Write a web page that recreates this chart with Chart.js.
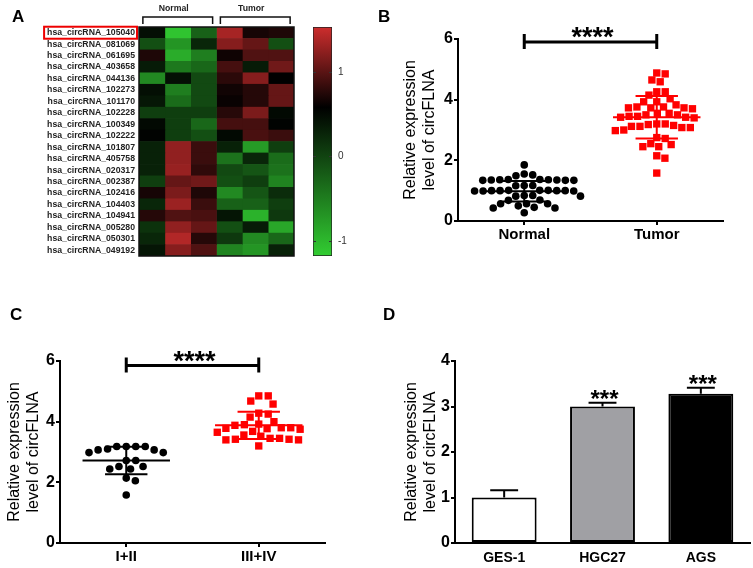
<!DOCTYPE html>
<html>
<head>
<meta charset="utf-8">
<script src="https://cdn.jsdelivr.net/npm/chart.js@4.4.0/dist/chart.umd.min.js"></script>
<style>
  body { margin: 0; background: #fff; }
  #page { position: relative; width: 753px; height: 568px; overflow: hidden; font-family: 'Liberation Sans', Arial, sans-serif; }
  canvas { position: absolute; }
  .tag { position: absolute; font-weight: bold; font-size: 17px; line-height: 17px; color: #000; }
</style>
</head>
<body>
<div id="page">
  <canvas id="heat" width="300" height="270" style="left:0;top:0"></canvas>
  <canvas id="cbar" width="53" height="270" style="left:300px;top:0"></canvas>
  <canvas id="chartB" width="383" height="270" style="left:370px;top:0"></canvas>
  <canvas id="chartC" width="340" height="278" style="left:0;top:290px"></canvas>
  <canvas id="chartD" width="373" height="278" style="left:380px;top:290px"></canvas>
  <div class="tag" style="left:12px;top:8px">A</div>
  <div class="tag" style="left:378px;top:8px">B</div>
  <div class="tag" style="left:10px;top:306px">C</div>
  <div class="tag" style="left:383px;top:306px">D</div>
</div>
<script>
// ---- panel A: heatmap ----
const heatRows = [
  "hsa_circRNA_105040", "hsa_circRNA_081069", "hsa_circRNA_061695", "hsa_circRNA_403658",
  "hsa_circRNA_044136", "hsa_circRNA_102273", "hsa_circRNA_101170", "hsa_circRNA_102228",
  "hsa_circRNA_100349", "hsa_circRNA_102222", "hsa_circRNA_101807", "hsa_circRNA_405758",
  "hsa_circRNA_020317", "hsa_circRNA_002387", "hsa_circRNA_102416", "hsa_circRNA_104403",
  "hsa_circRNA_104941", "hsa_circRNA_005280", "hsa_circRNA_050301", "hsa_circRNA_049192"
];
const heatCols = ["N1", "N2", "N3", "T1", "T2", "T3"];
const heatGroups = ["Normal", "Tumor"];
const heatValues = [
  [0.45, -1.1, -0.25, 1.35, 0.68, 0.72],
  [-0.1, -0.7, 0.25, 1.2, 1.05, -0.1],
  [0.72, -0.9, -0.5, 0.65, 0.95, 0.95],
  [0.35, -0.45, -0.3, 0.9, 0.35, 1.1],
  [-0.6, 0.45, -0.05, 0.78, 1.2, 0.58],
  [0.45, -0.5, -0.05, 0.66, 0.75, 1.05],
  [0.38, -0.35, -0.05, 0.62, 0.75, 1.05],
  [0.05, 0.05, 0.05, 0.76, 1.15, 0.5],
  [0.5, 0.05, -0.3, 0.9, 0.9, 0.55],
  [0.55, 0.05, -0.1, 0.5, 0.92, 0.85],
  [0.3, 1.25, 0.85, 0.3, -0.75, 0.05],
  [0.3, 1.25, 0.85, -0.4, 0.25, -0.35],
  [0.3, 1.28, 0.8, -0.05, -0.15, -0.4],
  [0.05, 1.05, 1.1, -0.1, 0.05, -0.55],
  [0.68, 1.15, 0.72, -0.6, -0.15, 0.2],
  [0.25, 1.3, 0.85, -0.25, -0.25, 0.05],
  [0.75, 0.95, 0.92, 0.4, -0.95, 0.1],
  [0.15, 1.25, 1.05, -0.1, 0.35, -0.85],
  [0.25, 1.4, 0.75, 0.1, -0.6, -0.3],
  [0.4, 1.2, 0.95, -0.55, -0.7, 0.3]
];
const cbTicks = [-1, 0, 1];
const cbRange = [-1.18, 1.53];

// ---- panel B ----
const bLabels = ["Normal", "Tumor"];
const bNormal = [1.85, 1.52, 1.49, 1.55,
  1.37, 1.36, 1.35, 1.34, 1.34, 1.34, 1.35, 1.36, 1.37,
  1.17, 1.16, 1.17,
  1.01, 1.0, 1.0, 0.99, 0.99, 0.99, 1.0, 1.0, 1.01, 1.01,
  0.84, 0.82, 0.82, 0.84, 0.69, 0.68,
  0.57, 0.5, 0.43, 0.27, 0.43, 0.45, 0.57, 0.57];
const bTumor = [4.88, 4.85, 4.65, 4.59, 4.26, 4.26, 4.15, 4.03, 3.93, 3.93, 3.83,
  3.73, 3.76, 3.73, 3.73, 3.76, 3.7, 3.55, 3.5, 3.45, 3.42, 3.4, 3.42, 3.45, 3.5, 3.55,
  3.2, 3.18, 3.12, 3.08, 3.08, 3.12, 3.15, 3.2, 3.0, 2.98,
  2.72, 2.75, 2.52, 2.55, 2.45, 2.45, 2.15, 2.07, 1.58];
const bMean = [0.98, 3.42];
const bSd = [0.34, 0.7];
const bSig = 5.9;

// ---- panel C ----
const cLabels = ["I+II", "III+IV"];
const cLow = [3.18, 3.18, 3.07, 2.98, 2.98, 3.07, 3.1, 3.18, 3.18, 2.72, 2.72, 2.52, 2.52, 2.44, 2.44, 2.14, 2.05, 1.58];
const cHigh = [4.85, 4.85, 4.68, 4.58, 4.28, 4.25, 4.15, 3.92, 3.88, 3.9, 4.0, 3.8, 3.78, 3.75, 3.77, 3.8,
  3.56, 3.52, 3.45, 3.42, 3.4, 3.4, 3.42, 3.45, 3.2, 3.65, 3.68];
const cMean = [2.72, 3.88];
const cSd = [0.45, 0.45];
const cSig = 5.85;

// ---- panel D ----
const dLabels = ["GES-1", "HGC27", "AGS"];
const dMean = [1.0, 3.0, 3.28];
const dErr = [0.16, 0.08, 0.13];
const dStars = ["", "***", "***"];

const FONT = "'Liberation Sans', Arial, sans-serif";
Chart.defaults.font.family = FONT;
Chart.defaults.color = "#000";
Chart.defaults.animation = false;

// green -> black -> red colour map of the heatmap
const cmStops = [[cbRange[0], [50, 205, 50]], [0.58, [0, 0, 0]], [cbRange[1], [205, 45, 45]]];
function heatColor(v) {
    v = Math.max(cbRange[0], Math.min(cbRange[1], v));
    for (let i = 0; i < cmStops.length - 1; i++) {
        const [a, ca] = cmStops[i], [b, cb] = cmStops[i + 1];
        if (v <= b) {
            const t = (v - a) / (b - a);
            const c = ca.map((x, k) => Math.round(x + (cb[k] - x) * t));
            return "rgb(" + c.join(",") + ")";
        }
    }
    return "rgb(" + cmStops[cmStops.length - 1][1].join(",") + ")";
}

const noLegend = { legend: { display: false }, tooltip: { enabled: false } };
const ROWFONT = 8.7;

const heatDecor = {
    id: "heatDecor",
    afterDraw(chart) {
        const { ctx, chartArea: a, scales: { x, y } } = chart;
        ctx.save();
        ctx.strokeStyle = "#111";
        ctx.lineWidth = 1.5;
        ctx.strokeRect(a.left, a.top, a.right - a.left, a.bottom - a.top);
        // group brackets
        ctx.font = "bold 8.7px " + FONT;
        ctx.fillStyle = "#222";
        ctx.textAlign = "center";
        ctx.textBaseline = "middle";
        heatGroups.forEach((g, i) => {
            const x0 = x.getPixelForValue(i * 3 + 0.15), x1 = x.getPixelForValue(i * 3 + 2.85);
            const yt = a.top - 10;
            ctx.beginPath();
            ctx.moveTo(x0, a.top - 3); ctx.lineTo(x0, yt); ctx.lineTo(x1, yt); ctx.lineTo(x1, a.top - 3);
            ctx.stroke();
            ctx.fillText(g, (x0 + x1) / 2 - 4, a.top - 18);
        });
        // red box round the first row label
        ctx.font = "bold " + ROWFONT + "px " + FONT;
        const w = ctx.measureText(heatRows[0]).width;
        const y0 = y.getPixelForValue(0);
        ctx.strokeStyle = "#e00";
        ctx.lineWidth = 2;
        ctx.strokeRect(a.left - 4 - w - 3, y0 - 6, w + 5, 12);
        ctx.restore();
    }
};

new Chart(document.getElementById("heat"), {
    type: "bar",
    data: {
        labels: heatRows,
        datasets: heatCols.map((c, j) => ({
            label: c,
            data: heatRows.map(() => 1),
            backgroundColor: heatValues.map(r => heatColor(r[j])),
            borderWidth: 0,
            barPercentage: 1,
            categoryPercentage: 1
        }))
    },
    options: {
        indexAxis: "y",
        responsive: false,
        layout: { padding: { top: 27, right: 6, bottom: 14, left: 0 } },
        scales: {
            x: { stacked: true, min: 0, max: 6, display: false },
            y: {
                stacked: true,
                grid: { display: false, drawTicks: false },
                border: { display: false },
                ticks: { font: { size: ROWFONT, weight: "bold" }, color: "#222", padding: 4, autoSkip: false },
                afterFit(s) { s.width = 139; }
            }
        },
        plugins: noLegend
    },
    plugins: [heatDecor]
});

const cbMarks = {
    id: "cbMarks",
    afterDatasetsDraw(chart) {
        const { ctx, chartArea: a, scales: { y } } = chart;
        ctx.save();
        ctx.strokeStyle = "#333";
        ctx.lineWidth = 1;
        cbTicks.forEach(v => {
            const py = Math.round(y.getPixelForValue(v)) + 0.5;
            ctx.beginPath();
            ctx.moveTo(a.left, py); ctx.lineTo(a.left + 3, py);
            ctx.moveTo(a.right - 3, py); ctx.lineTo(a.right, py);
            ctx.stroke();
        });
        ctx.restore();
    }
};

new Chart(document.getElementById("cbar"), {
    type: "bar",
    data: {
        labels: [""],
        datasets: [{
            data: [cbRange],
            backgroundColor(c) {
                const ch = c.chart;
                if (!ch.chartArea) return "#000";
                const y = ch.scales.y;
                const g = ch.ctx.createLinearGradient(0, y.getPixelForValue(cbRange[0]), 0, y.getPixelForValue(cbRange[1]));
                cmStops.forEach(([v, col]) => g.addColorStop((v - cbRange[0]) / (cbRange[1] - cbRange[0]), "rgb(" + col.join(",") + ")"));
                return g;
            },
            borderColor: "#222",
            borderWidth: 1,
            borderSkipped: false,
            barPercentage: 1,
            categoryPercentage: 1
        }]
    },
    options: {
        responsive: false,
        layout: { padding: { top: 27, left: 13, bottom: 14, right: 0 } },
        scales: {
            x: { display: false },
            y: {
                position: "right",
                min: cbRange[0], max: cbRange[1],
                afterBuildTicks(s) { s.ticks = cbTicks.map(v => ({ value: v })); },
                grid: { display: false, drawTicks: false },
                border: { display: false },
                ticks: { font: { size: 10 }, color: "#333", padding: 6 },
                afterFit(s) { s.width = 21; }
            }
        },
        plugins: noLegend
    },
    plugins: [cbMarks]
});

// ---- scatter dot plots with mean +/- SD ----
const scatterDecor = {
    id: "scatterDecor",
    afterDatasetsDraw(chart, args, o) {
        const { ctx, scales: { x, y } } = chart;
        ctx.save();
        ctx.lineWidth = 2;
        o.means.forEach((m, i) => {
            const cx = i + 0.5;
            ctx.strokeStyle = o.colors[i];
            const hi = y.getPixelForValue(m + o.sds[i]), lo = y.getPixelForValue(m - o.sds[i]);
            ctx.beginPath();
            ctx.moveTo(x.getPixelForValue(cx - 0.33), y.getPixelForValue(m));
            ctx.lineTo(x.getPixelForValue(cx + 0.33), y.getPixelForValue(m));
            ctx.moveTo(x.getPixelForValue(cx - 0.16), hi);
            ctx.lineTo(x.getPixelForValue(cx + 0.16), hi);
            ctx.moveTo(x.getPixelForValue(cx - 0.16), lo);
            ctx.lineTo(x.getPixelForValue(cx + 0.16), lo);
            ctx.moveTo(x.getPixelForValue(cx), hi);
            ctx.lineTo(x.getPixelForValue(cx), lo);
            ctx.stroke();
        });
        // significance bar
        const sy = y.getPixelForValue(o.sig), x0 = x.getPixelForValue(0.5), x1 = x.getPixelForValue(1.5);
        ctx.strokeStyle = "#000";
        ctx.lineWidth = 3;
        ctx.beginPath();
        ctx.moveTo(x0, sy); ctx.lineTo(x1, sy);
        ctx.moveTo(x0, sy - 8); ctx.lineTo(x0, sy + 7);
        ctx.moveTo(x1, sy - 8); ctx.lineTo(x1, sy + 7);
        ctx.stroke();
        ctx.fillStyle = "#000";
        ctx.font = "bold 27px " + FONT;
        ctx.textAlign = "center";
        ctx.textBaseline = "middle";
        ctx.fillText("****", (x0 + x1) / 2 + 2, sy - 3);
        ctx.restore();
    }
};

function applySwarm(chart, groups, diam) {
    const xs = chart.scales.x, ys = chart.scales.y;
    const unit = xs.getPixelForValue(1) - xs.getPixelForValue(0);
    groups.forEach((vals, g) => {
        const order = vals.map((v, i) => i).sort((a, b) => vals[b] - vals[a]);
        const placed = [];
        const off = new Array(vals.length);
        order.forEach(i => {
            const py = ys.getPixelForValue(vals[i]);
            const iv = [];
            placed.forEach(p => {
                const dy = Math.abs(p.y - py);
                if (dy < diam) {
                    const w = Math.sqrt(diam * diam - dy * dy);
                    iv.push([p.x - w, p.x + w]);
                }
            });
            const cands = [0];
            iv.forEach(r => cands.push(r[0], r[1]));
            cands.sort((a, b) => Math.abs(a) - Math.abs(b) || b - a);
            const px = cands.find(c => iv.every(r => c <= r[0] + 1e-6 || c >= r[1] - 1e-6));
            placed.push({ x: px, y: py });
            off[i] = px;
        });
        chart.data.datasets[g].data = vals.map((v, i) => ({ x: g + 0.5 + off[i] / unit, y: v }));
    });
    chart.update();
}

function makeScatter(id, labels, groups, means, sds, sig, lay) {
    const chart = new Chart(document.getElementById(id), {
        type: "scatter",
        data: {
            datasets: [
                { data: groups[0].map(v => ({ x: 0.5, y: v })), pointStyle: "circle", pointRadius: 3.8,
                  backgroundColor: "#000", borderWidth: 0 },
                { data: groups[1].map(v => ({ x: 1.5, y: v })), pointStyle: "rect", pointRadius: 5.2,
                  backgroundColor: "#f00", borderWidth: 0 }
            ]
        },
        options: {
            responsive: false,
            layout: { padding: { top: lay.top, right: lay.right, bottom: 0, left: 0 } },
            scales: {
                x: {
                    type: "linear", min: 0, max: 2,
                    afterBuildTicks(s) { s.ticks = [{ value: 0.5 }, { value: 1.5 }]; },
                    grid: { drawOnChartArea: false, tickLength: 4, color: "#000", lineWidth: 2 },
                    border: { color: "#000", width: 2 },
                    ticks: { font: { size: 15, weight: "bold" }, padding: 1, callback: (v, i) => labels[i] },
                    afterFit(s) { s.height = lay.xh; }
                },
                y: {
                    min: 0, max: 6,
                    ticks: { stepSize: 2, font: { size: 16, weight: "bold" }, padding: 1 },
                    grid: { drawOnChartArea: false, tickLength: 4, color: "#000", lineWidth: 2 },
                    border: { color: "#000", width: 2 },
                    title: { display: true, text: ["Relative expression", "level of circFLNA"],
                             font: { size: 16 }, padding: { top: lay.tp, bottom: 0 } },
                    afterFit(s) { s.width = lay.yw; }
                }
            },
            plugins: Object.assign({ scatterDecor: { means: means, sds: sds, sig: sig, colors: ["#000", "#f00"] } }, noLegend)
        },
        plugins: [scatterDecor]
    });
    applySwarm(chart, groups, lay.diam);
    return chart;
}

makeScatter("chartB", bLabels, [bNormal, bTumor], bMean, bSd, bSig, { top: 39, right: 30, xh: 49, yw: 88, tp: 31, diam: 8.5 });
makeScatter("chartC", cLabels, [cLow, cHigh], cMean, cSd, cSig, { top: 71, right: 15, xh: 25, yw: 60, tp: 5, diam: 9.5 });

// ---- panel D: bars with SD ----
const barDecor = {
    id: "barDecor",
    afterDatasetsDraw(chart) {
        const { ctx, scales: { y } } = chart;
        const meta = chart.getDatasetMeta(0);
        ctx.save();
        ctx.strokeStyle = "#000";
        ctx.fillStyle = "#000";
        ctx.lineWidth = 2;
        ctx.font = "bold 24px " + FONT;
        ctx.textAlign = "center";
        ctx.textBaseline = "middle";
        meta.data.forEach((bar, i) => {
            const top = y.getPixelForValue(dMean[i]), eTop = y.getPixelForValue(dMean[i] + dErr[i]);
            const hw = bar.width * 0.215;
            ctx.beginPath();
            ctx.moveTo(bar.x, top); ctx.lineTo(bar.x, eTop);
            ctx.moveTo(bar.x - hw, eTop); ctx.lineTo(bar.x + hw, eTop);
            ctx.stroke();
            if (dStars[i]) ctx.fillText(dStars[i], bar.x + 2, eTop - 2);
        });
        ctx.restore();
    }
};

new Chart(document.getElementById("chartD"), {
    type: "bar",
    data: {
        labels: dLabels,
        datasets: [{
            data: dMean,
            backgroundColor: ["#fff", "#a0a0a4", "#000"],
            borderColor: "#000",
            borderWidth: 2,
            borderSkipped: false,
            barPercentage: 0.66,
            categoryPercentage: 1
        }]
    },
    options: {
        responsive: false,
        layout: { padding: { top: 71, right: 3, bottom: 0, left: 0 } },
        scales: {
            x: {
                grid: { display: false, drawTicks: false },
                border: { color: "#000", width: 2 },
                ticks: { font: { size: 14, weight: "bold" }, padding: 7 },
                afterFit(s) { s.height = 25; }
            },
            y: {
                min: 0, max: 4,
                ticks: { stepSize: 1, font: { size: 16, weight: "bold" }, padding: 1 },
                grid: { drawOnChartArea: false, tickLength: 4, color: "#000", lineWidth: 2 },
                border: { color: "#000", width: 2 },
                title: { display: true, text: ["Relative expression", "level of circFLNA"],
                         font: { size: 16 }, padding: { top: 22, bottom: 0 } },
                afterFit(s) { s.width = 75; }
            }
        },
        plugins: noLegend
    },
    plugins: [barDecor]
});
</script>
</body>
</html>
